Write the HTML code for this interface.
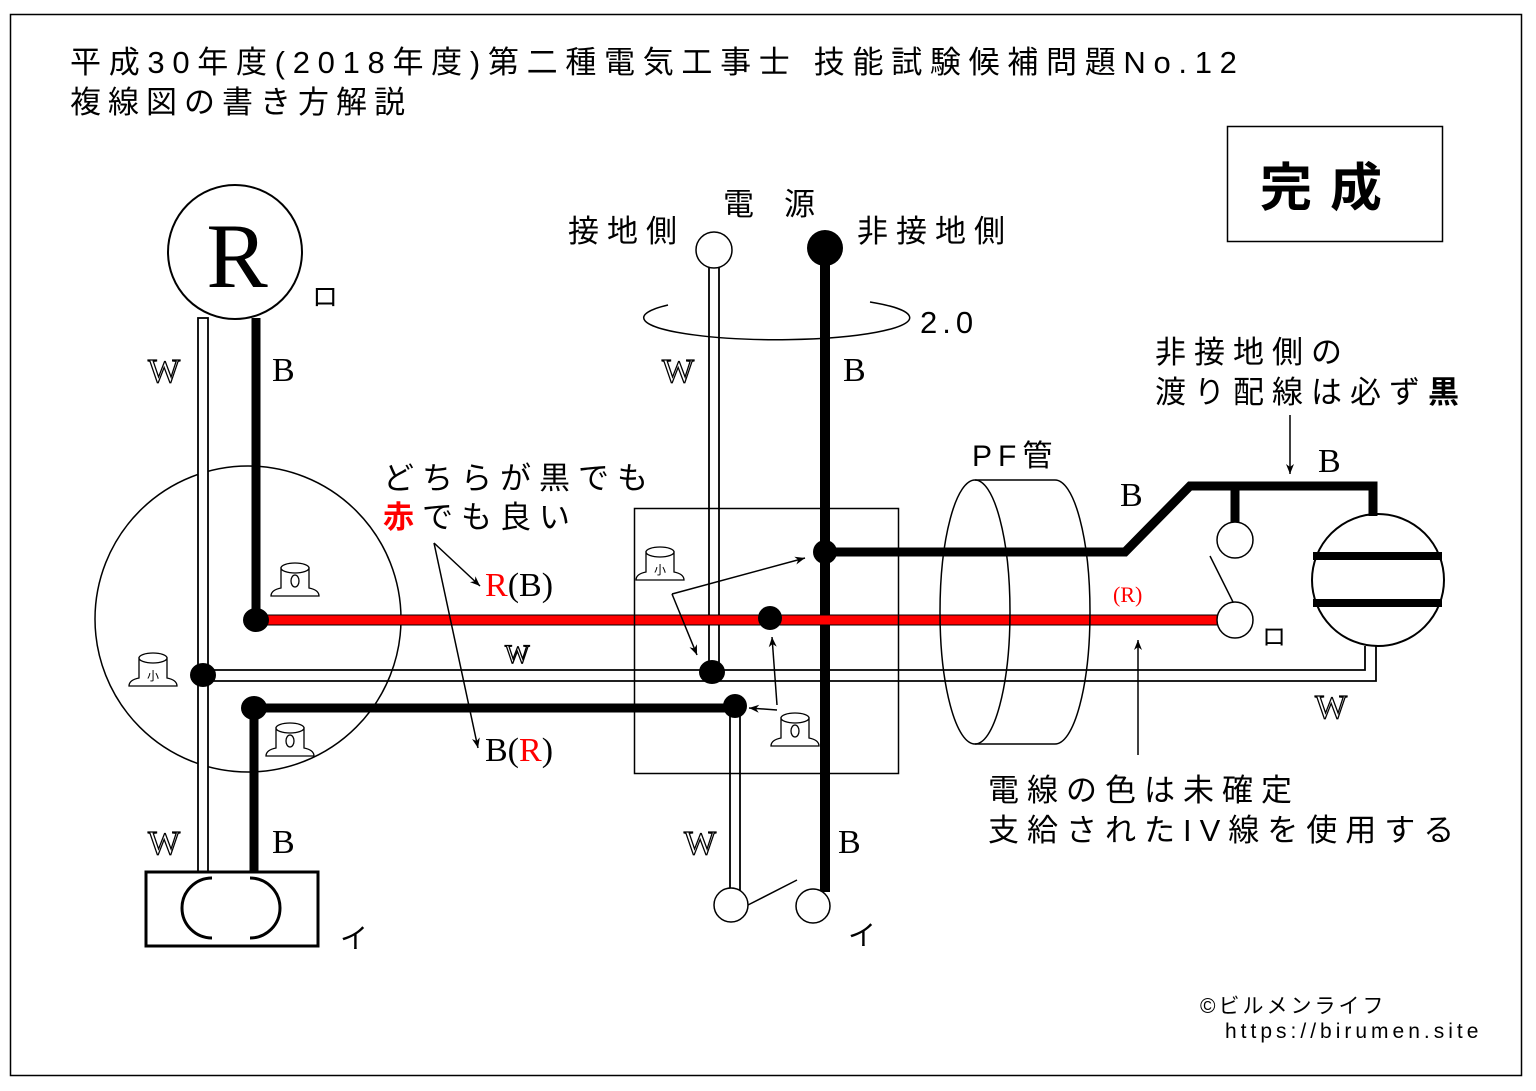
<!DOCTYPE html>
<html><head><meta charset="utf-8"><style>
body{margin:0;background:#fff}
svg text{font-family:"Liberation Sans","Noto Sans CJK JP",sans-serif}
svg text.s{font-family:"Liberation Serif","Noto Serif CJK SC",serif}
svg text.w{font-family:"Liberation Serif",serif;font-size:34px;fill:#fff;stroke:#000;stroke-width:1.3}
</style></head><body>
<svg width="1536" height="1086" viewBox="0 0 1536 1086" xmlns="http://www.w3.org/2000/svg">
<rect x="0" y="0" width="1536" height="1086" fill="#fff"/>
<rect x="10.5" y="14.5" width="1511" height="1061" fill="none" stroke="#000" stroke-width="1.5"/>
<text x="70" y="73" font-size="31" letter-spacing="7.7">平成30年度(2018年度)第二種電気工事士 技能試験候補問題No.12</text>
<text x="70" y="113" font-size="31" letter-spacing="7">複線図の書き方解説</text>
<rect x="1227.5" y="126.5" width="215" height="115" fill="none" stroke="#000" stroke-width="1.5"/>
<text x="1260" y="206" font-size="52" font-weight="bold" letter-spacing="18">完成</text>

<circle cx="235" cy="252" r="67" fill="#fff" stroke="#000" stroke-width="2"/>
<text x="237" y="287" font-size="92" class="s" text-anchor="middle" font-weight="normal">R</text>
<text x="312" y="306" font-size="26">ロ</text>

<circle cx="248" cy="619" r="153" fill="none" stroke="#000" stroke-width="1.5"/>

<g fill="#fff" stroke="#000" stroke-width="1.8">
<rect x="198" y="318" width="10" height="554"/>
<rect x="709" y="262" width="10" height="410"/>
<rect x="730" y="706" width="10" height="184"/>
<path d="M203 670 H1365 V646 M203 681 H1376 V646" fill="none"/>
</g>
<g stroke="#000" stroke-width="9" fill="none">
<path d="M256 318 V620"/>
<path d="M254 708 H735"/>
<path d="M254 708 V872"/>
<path d="M825 250 V892" stroke-width="10"/>
<path d="M825 552 H1125 L1190 486 H1373 V516"/>
<path d="M1235 486 V524"/>
</g>
<rect x="256" y="615" width="966" height="10" fill="#f00" stroke="#000" stroke-width="1"/>
<circle cx="1378" cy="580" r="66" fill="none" stroke="#000" stroke-width="2"/>
<path d="M1313 556 H1442 M1313 603 H1442" stroke="#000" stroke-width="8"/>

<circle cx="1235" cy="540" r="18" fill="#fff" stroke="#000" stroke-width="1.5"/>
<circle cx="1235" cy="620" r="18" fill="#fff" stroke="#000" stroke-width="1.5"/>
<line x1="1210" y1="556" x2="1233" y2="602" stroke="#000" stroke-width="1.5"/>
<text x="1262" y="645" font-size="24">ロ</text>

<g fill="#000">
<ellipse cx="256" cy="620" rx="13" ry="12"/>
<ellipse cx="203" cy="675" rx="13" ry="12"/>
<ellipse cx="254" cy="708" rx="13" ry="12"/>
<ellipse cx="770" cy="618" rx="12" ry="12"/>
<ellipse cx="712" cy="672" rx="13" ry="12"/>
<ellipse cx="735" cy="706" rx="12" ry="12"/>
<ellipse cx="825" cy="552" rx="12" ry="12"/>
</g>

<circle cx="714" cy="250" r="18" fill="#fff" stroke="#000" stroke-width="1.5"/>
<circle cx="825" cy="248" r="18" fill="#000"/>
<path d="M668 305 A133 22 0 1 0 870 302" fill="none" stroke="#000" stroke-width="1.5"/>
<text x="723" y="215" font-size="31" letter-spacing="30">電源</text>
<text x="568" y="242" font-size="31" letter-spacing="8">接地側</text>
<text x="857" y="242" font-size="31" letter-spacing="8">非接地側</text>
<text x="920" y="333" font-size="31" letter-spacing="5">2.0</text>

<rect x="634.5" y="508.5" width="264" height="265" fill="none" stroke="#000" stroke-width="1.5"/>

<g fill="none" stroke="#000" stroke-width="1.5">
<ellipse cx="975" cy="612" rx="35" ry="132"/>
<path d="M975 480 H1055 A35 132 0 0 1 1055 744 H975"/>
</g>
<text x="972" y="466" font-size="30" letter-spacing="6">PF管</text>

<rect x="146" y="872" width="172" height="74" fill="#fff" stroke="#000" stroke-width="3"/>
<path d="M212 878 A30 30 0 0 0 212 938 M250 878 A30 30 0 0 1 250 938" fill="none" stroke="#000" stroke-width="3"/>
<text x="340" y="948" font-size="28">イ</text>

<circle cx="731" cy="905" r="17" fill="#fff" stroke="#000" stroke-width="1.5"/>
<circle cx="813" cy="906" r="17" fill="#fff" stroke="#000" stroke-width="1.5"/>
<line x1="748" y1="905" x2="797" y2="880" stroke="#000" stroke-width="1.5"/>
<text x="848" y="945" font-size="28">イ</text>

<text class="w" x="148" y="382">W</text>
<text class="w" x="662" y="382">W</text>
<text class="w" x="505" y="663" style="font-size:26px">W</text>
<text class="w" x="1315" y="718">W</text>
<text class="w" x="148" y="854">W</text>
<text class="w" x="684" y="854">W</text>
<text class="s" font-size="34" x="272" y="381">B</text>
<text class="s" font-size="34" x="843" y="381">B</text>
<text class="s" font-size="34" x="272" y="853">B</text>
<text class="s" font-size="34" x="838" y="853">B</text>
<text class="s" font-size="34" x="1120" y="506">B</text>
<text class="s" font-size="34" x="1318" y="472">B</text>

<g fill="#fff" stroke="#000" stroke-width="1.3">
<g transform="translate(660,566)"><path d="M-24 14 Q-24 8 -14 6 V-14 H14 V6 Q24 8 24 14 Z"/><ellipse cx="0" cy="-14" rx="14" ry="5"/><text x="0" y="8" font-size="12" text-anchor="middle" fill="#000" stroke="none">小</text></g>
<g transform="translate(153,672)"><path d="M-24 14 Q-24 8 -14 6 V-14 H14 V6 Q24 8 24 14 Z"/><ellipse cx="0" cy="-14" rx="14" ry="5"/><text x="0" y="8" font-size="12" text-anchor="middle" fill="#000" stroke="none">小</text></g>
<g transform="translate(295,582)"><path d="M-24 14 Q-24 8 -14 6 V-14 H14 V6 Q24 8 24 14 Z"/><ellipse cx="0" cy="-14" rx="14" ry="5"/><ellipse cx="0" cy="-1" rx="4" ry="6"/></g>
<g transform="translate(290,742)"><path d="M-24 14 Q-24 8 -14 6 V-14 H14 V6 Q24 8 24 14 Z"/><ellipse cx="0" cy="-14" rx="14" ry="5"/><ellipse cx="0" cy="-1" rx="4" ry="6"/></g>
<g transform="translate(795,732)"><path d="M-24 14 Q-24 8 -14 6 V-14 H14 V6 Q24 8 24 14 Z"/><ellipse cx="0" cy="-14" rx="14" ry="5"/><ellipse cx="0" cy="-1" rx="4" ry="6"/></g>
</g>

<defs><marker id="a" viewBox="0 0 10 10" refX="10" refY="5" markerWidth="12" markerHeight="10" markerUnits="userSpaceOnUse" orient="auto"><path d="M0 1 L10 5 L0 9 L3 5 Z" fill="#000"/></marker></defs>
<g stroke="#000" stroke-width="1.5" fill="none">
<path d="M434 543 L480 586" marker-end="url(#a)"/>
<path d="M434 543 L478 748" marker-end="url(#a)"/>
<path d="M672 594 L805 558" marker-end="url(#a)"/>
<path d="M672 594 L697 655" marker-end="url(#a)"/>
<path d="M777 705 L772 637" marker-end="url(#a)"/>
<path d="M777 710 L749 708" marker-end="url(#a)"/>
<path d="M1290 415 V474" marker-end="url(#a)"/>
<path d="M1138 755 V640" marker-end="url(#a)"/>
</g>
<text x="383" y="489" font-size="31" letter-spacing="8">どちらが黒でも</text>
<text x="383" y="528" font-size="31" letter-spacing="8"><tspan fill="#f00" font-weight="bold">赤</tspan>でも良い</text>
<text x="485" y="596" font-size="34" class="s"><tspan fill="#f00">R</tspan>(B)</text>
<text x="485" y="761" font-size="34" class="s">B(<tspan fill="#f00">R</tspan>)</text>
<text x="1113" y="602" font-size="22" class="s" fill="#f00">(R)</text>
<text x="1155" y="363" font-size="31" letter-spacing="8">非接地側の</text>
<text x="1155" y="403" font-size="31" letter-spacing="8">渡り配線は必ず<tspan font-weight="bold">黒</tspan></text>
<text x="988" y="801" font-size="31" letter-spacing="8">電線の色は未確定</text>
<text x="988" y="841" font-size="31" letter-spacing="8">支給されたIV線を使用する</text>
<text x="1200" y="1013" font-size="21" letter-spacing="3">©ビルメンライフ</text>
<text x="1225" y="1038" font-size="21" letter-spacing="4">https://birumen.site</text>
</svg>
</body></html>
